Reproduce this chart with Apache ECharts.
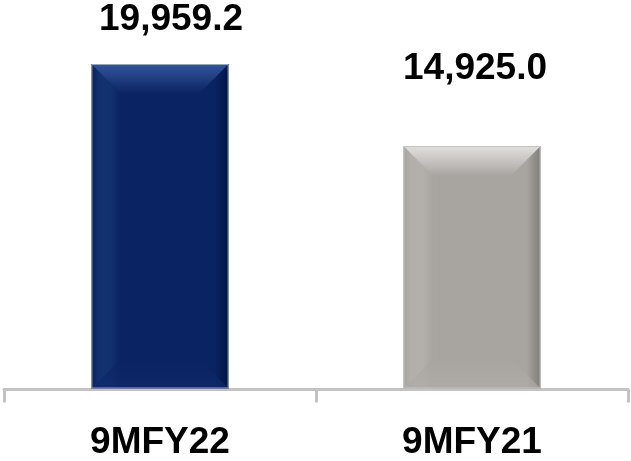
<!DOCTYPE html>
<html>
<head>
<meta charset="utf-8">
<script src="https://cdn.jsdelivr.net/npm/echarts@6/dist/echarts.min.js"></script>
<style>
html,body{margin:0;padding:0;background:#fff;}
#chart{width:631px;height:461px;}
</style>
</head>
<body>
<div id="chart"></div>
<script>
const categories = ['9MFY22', '9MFY21'];
const values = [19959.2, 14925.0];
const valueLabels = ['19,959.2', '14,925.0'];

// styling (not data)
const palettes = [
  { body: '#0a2362', light: '#34559a', strip: '#13306f', dark: '#03153f', bottom: '#0f2a6a', edge: '#9aa4ba' },
  { body: '#a8a5a1', light: '#e2e0dd', strip: '#b3b0ac', dark: '#7f7c78', bottom: '#b0ada9', edge: '#c4c2bf' }
];
const labelShift = [[11, -44], [3, -77]];

const chart = echarts.init(document.getElementById('chart'), null, { renderer: 'canvas' });

function renderItem(params, api) {
  const i = params.dataIndex;
  const x = api.value(0), v = api.value(1);
  const top = api.coord([x, v]);
  const base = api.coord([x, 0]);
  const bw = api.size([1, 0])[0] * 0.44;
  const l = top[0] - bw / 2, r = l + bw, t = top[1], b = base[1] - 1;
  const d = 30;
  const p = palettes[i];
  const lg = (x0, y0, x1, y1, stops) => new echarts.graphic.LinearGradient(x0, y0, x1, y1, stops);
  return {
    type: 'group',
    children: [
      { type: 'rect', shape: { x: l, y: t, width: bw, height: b - t },
        style: { fill: lg(0, 0, 1, 0, [
          { offset: 0, color: p.body }, { offset: 0.06, color: p.strip }, { offset: 0.14, color: p.strip },
          { offset: 0.22, color: p.body }, { offset: 0.9, color: p.body }, { offset: 1, color: p.dark }]) } },
      { type: 'polygon', shape: { points: [[l, t], [r, t], [r - d, t + d], [l + d, t + d]] },
        style: { fill: lg(0, 0, 0, 1, [{ offset: 0, color: p.light }, { offset: 1, color: p.body }]) } },
      { type: 'polygon', shape: { points: [[l, b], [r, b], [r - d, b - d], [l + d, b - d]] },
        style: { fill: lg(0, 1, 0, 0, [{ offset: 0, color: p.bottom }, { offset: 1, color: p.body }]), opacity: 0.7 } },
      { type: 'rect', shape: { x: l + 0.5, y: t + 0.5, width: bw - 1, height: b - t - 1 },
        style: { fill: 'none', stroke: p.edge, lineWidth: 1 } },
      { type: 'text', x: top[0] + labelShift[i][0], y: t + labelShift[i][1],
        style: { text: valueLabels[i], fill: '#000', font: 'bold 37px "Liberation Sans", Arial, sans-serif',
                 align: 'center', verticalAlign: 'middle' } }
    ]
  };
}

chart.setOption({
  animation: false,
  grid: { left: 4, right: 3, top: 64, bottom: 64 },
  xAxis: {
    type: 'category',
    data: categories,
    boundaryGap: true,
    axisLine: { lineStyle: { color: '#c3c3c3', width: 3 } },
    axisTick: { show: true, length: 13, lineStyle: { color: '#c3c3c3', width: 3 } },
    axisLabel: { color: '#000', fontFamily: '"Liberation Sans", Arial, sans-serif', fontWeight: 'bold',
                 fontSize: 37, margin: 53, verticalAlign: 'middle' }
  },
  yAxis: { type: 'value', min: 0, max: 19959.2, show: false, splitLine: { show: false } },
  series: [{
    type: 'custom',
    renderItem: renderItem,
    data: categories.map((c, i) => [i, values[i]]),
    encode: { x: 0, y: 1 }
  }]
});
</script>
</body>
</html>
